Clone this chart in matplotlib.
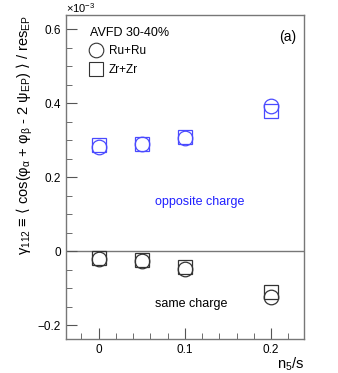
import matplotlib.pyplot as plt
from matplotlib.ticker import MultipleLocator

plt.rcParams['font.family'] = ['Liberation Sans', 'DejaVu Sans']
plt.rcParams['mathtext.fontset'] = 'custom'
plt.rcParams['mathtext.rm'] = 'Liberation Sans'
plt.rcParams['mathtext.it'] = 'Liberation Sans'
plt.rcParams['mathtext.sf'] = 'DejaVu Sans'
plt.rcParams['mathtext.default'] = 'rm'

# Data (values in units of 1e-3)
n5s = [0, 0.05, 0.1, 0.2]
ru_opposite = [0.282, 0.289, 0.307, 0.392]
zr_opposite = [0.286, 0.289, 0.308, 0.380]
ru_same = [-0.021, -0.028, -0.048, -0.125]
zr_same = [-0.018, -0.025, -0.043, -0.111]

blue = '#4a4aff'
dark = '#333333'

fig = plt.figure(figsize=(3.38, 3.73), dpi=100)
ax = fig.add_axes([0.195, 0.091, 0.704, 0.869])

ax.axhline(0, color='#777777', lw=1.0, zorder=1)

ax.plot(n5s, zr_opposite, 's', ms=10.5, mfc='none', mec=blue, mew=0.9)
ax.plot(n5s, ru_opposite, 'o', ms=10.5, mfc='none', mec=blue, mew=0.9)
ax.plot(n5s, zr_same, 's', ms=10.5, mfc='none', mec=dark, mew=0.9)
ax.plot(n5s, ru_same, 'o', ms=10.5, mfc='none', mec=dark, mew=0.9)

# legend handles
h_ru, = ax.plot([], [], 'o', ms=10.5, mfc='none', mec=dark, mew=0.8)
h_zr, = ax.plot([], [], 's', ms=10.5, mfc='none', mec=dark, mew=0.8)
leg = ax.legend([h_ru, h_zr], ['Ru+Ru', 'Zr+Zr'], title='AVFD 30-40%',
                loc='upper left', frameon=False, fontsize=8.5,
                title_fontsize=9, alignment='left', handletextpad=0.6,
                handlelength=1.0, borderaxespad=0.6, labelspacing=0.55,
                bbox_to_anchor=(0.05, 1.0))

ax.text(0.97, 0.955, '(a)', transform=ax.transAxes, ha='right', va='top',
        fontsize=10)
ax.text(0.563, 0.423, 'opposite charge', transform=ax.transAxes, ha='center',
        va='center', fontsize=9, color='#2020ff')
ax.text(0.528, 0.108, 'same charge', transform=ax.transAxes, ha='center',
        va='center', fontsize=9, color='black')

ax.set_xlim(-0.038, 0.238)
ax.set_ylim(-0.238, 0.639)

ax.xaxis.set_major_locator(MultipleLocator(0.1))
ax.xaxis.set_minor_locator(MultipleLocator(0.02))
ax.yaxis.set_major_locator(MultipleLocator(0.2))
ax.yaxis.set_minor_locator(MultipleLocator(0.05))
ax.set_xticks([0, 0.1, 0.2])
ax.set_xticklabels(['0', '0.1', '0.2'])
ax.set_yticks([-0.2, 0, 0.2, 0.4, 0.6])
ax.set_yticklabels(['\u22120.2', '0', '0.2', '0.4', '0.6'])
ax.tick_params(which='both', direction='in', top=False, right=False,
               labelsize=8.5, color='#555555')
ax.tick_params(which='major', length=8)
ax.tick_params(which='minor', length=4)
for s in ax.spines.values():
    s.set_color('#777777')
    s.set_linewidth(1.0)

ax.text(0.0, 1.0, '\u00d710$^{-3}$', transform=ax.transAxes, ha='left',
        va='bottom', fontsize=8)
ax.set_xlabel('n$_5$/s', fontsize=10.5, loc='right', labelpad=0)
ax.set_ylabel('\u03b3$_{112}$ \u2261 $\\mathsf{\u27e8}$ cos(\u03c6$_\u03b1$ + \u03c6$_\u03b2$ - 2 \u03c8$_{EP}$) $\\mathsf{\u27e9}$ / res$_{EP}$',
              fontsize=10.5, loc='top', labelpad=2)

fig.savefig('out.png', dpi=100)
